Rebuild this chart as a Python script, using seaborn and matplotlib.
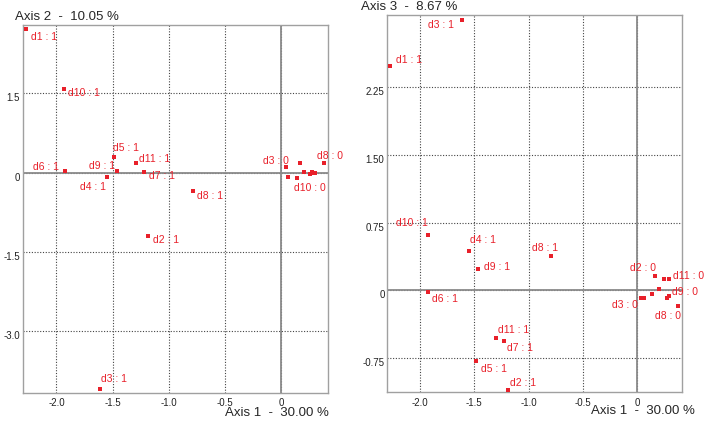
import matplotlib
matplotlib.use("Agg")
import matplotlib.pyplot as plt
import matplotlib.transforms as mtransforms
import pandas as pd
import seaborn as sns

# Modalities and their coordinates on axes 1, 2 and 3
names = ["d1 : 1", "d10 : 1", "d5 : 1", "d9 : 1", "d6 : 1", "d4 : 1", "d11 : 1",
         "d7 : 1", "d8 : 1", "d2 : 1", "d3 : 1",
         "d3 : 0", "d4 : 0", "d5 : 0", "d2 : 0", "d10 : 0", "d6 : 0", "d11 : 0",
         "d7 : 0", "d9 : 0", "d8 : 0"]
axis1 = [-2.275, -1.93, -1.484, -1.463, -1.928, -1.548, -1.297,
         -1.225, -0.79, -1.19, -1.615,
         0.037, 0.062, 0.134, 0.165, 0.200, 0.250, 0.290,
         0.276, 0.297, 0.375]
axis2 = [2.72, 1.58, 0.30, 0.04, 0.04, -0.09, 0.19,
         0.01, -0.35, -1.20, -4.09,
         0.11, -0.08, -0.10, 0.18, 0.01, -0.03, -0.01,
         0.01, -0.01, 0.18]
axis3 = [2.48, 0.61, -0.78, 0.24, -0.015, 0.435, -0.525,
         -0.565, 0.376, -1.10, 3.00,
         -0.08, -0.08, -0.04, 0.16, 0.01, 0.13, 0.12,
         -0.08, -0.06, -0.17]

df = pd.DataFrame({"label": names, "ax1": axis1, "ax2": axis2, "ax3": axis3})

# label placement (pixel offsets from the point, horizontal alignment)
labels_12 = {
    "d1 : 1": (5, -8, "left"), "d10 : 1": (4, -4, "left"), "d5 : 1": (-1, 9, "left"),
    "d9 : 1": (-2, 5, "right"), "d6 : 1": (-6, 4, "right"), "d4 : 1": (-1, -10, "right"),
    "d11 : 1": (3, 4, "left"), "d7 : 1": (5, -4, "left"), "d8 : 1": (4, -5, "left"),
    "d2 : 1": (5, -4, "left"), "d3 : 1": (1, 10, "left"),
    "d3 : 0": (3, 6, "right"), "d8 : 0": (-7, 7, "left"), "d10 : 0": (-10, -16, "left"),
}
labels_13 = {
    "d3 : 1": (-8, -5, "right"), "d1 : 1": (6, 6, "left"), "d10 : 1": (0, 12, "right"),
    "d4 : 1": (1, 11, "left"), "d9 : 1": (6, 2, "left"), "d8 : 1": (-19, 8, "left"),
    "d6 : 1": (4, -7, "left"), "d11 : 1": (2, 8, "left"), "d7 : 1": (3, -7, "left"),
    "d5 : 1": (5, -8, "left"), "d2 : 1": (2, 7, "left"),
    "d2 : 0": (1, 8, "right"), "d11 : 0": (4, 3, "left"), "d9 : 0": (3, 4, "left"),
    "d3 : 0": (-3, -7, "right"), "d8 : 0": (-23, -10, "left"),
}

red = "#e8202a"
sns.set_style("white")
plt.rcParams["font.family"] = ["Liberation Sans", "DejaVu Sans"]

fig = plt.figure(figsize=(7.09, 4.21), dpi=100)
axL = fig.add_axes([0.032, 0.0672, 0.430, 0.8734])
axR = fig.add_axes([0.5463, 0.0682, 0.4152, 0.8962])


def style_axes(ax, xlim, ylim, yticks, yticklabels):
    ax.set_xlim(*xlim)
    ax.set_ylim(*ylim)
    ax.set_xticks([-2.0, -1.5, -1.0, -0.5, 0])
    ax.set_xticklabels(["-2.0", "-1.5", "-1.0", "-0.5", "0"])
    ax.set_yticks(yticks)
    ax.set_yticklabels(yticklabels)
    ax.tick_params(length=0, labelsize=7, colors="#222222", pad=4)
    ax.tick_params(axis="y", pad=2)
    ax.grid(True, linestyle=(0, (1, 1.5)), color="#444444", linewidth=0.8)
    ax.axhline(0, color="#8a8a8a", linewidth=1.3, zorder=1)
    ax.axvline(0, color="#8a8a8a", linewidth=1.3, zorder=1)
    for sp in ax.spines.values():
        sp.set_color("#a0a0a0")
        sp.set_linewidth(1.0)
    ax.set_xlabel("")
    ax.set_ylabel("")
    shift = mtransforms.ScaledTranslation(0, -4 / 100, fig.dpi_scale_trans)
    for lab in ax.get_yticklabels():
        lab.set_transform(lab.get_transform() + shift)


sns.scatterplot(data=df, x="ax1", y="ax2", ax=axL, color=red, marker="s",
                s=5, linewidth=0, legend=False, zorder=3)
sns.scatterplot(data=df, x="ax1", y="ax3", ax=axR, color=red, marker="s",
                s=5, linewidth=0, legend=False, zorder=3)

style_axes(axL, (-2.30, 0.41), (-4.16, 2.79), [-3.0, -1.5, 0, 1.5],
           ["-3.0", "-1.5", "0", "1.5"])
style_axes(axR, (-2.30, 0.41), (-1.13, 3.05), [-0.75, 0, 0.75, 1.5, 2.25],
           ["-0.75", "0", "0.75", "1.50", "2.25"])

for ax, ycol, labs in [(axL, "ax2", labels_12), (axR, "ax3", labels_13)]:
    for _, row in df.iterrows():
        if row["label"] in labs:
            dx, dy, ha = labs[row["label"]]
            ax.annotate(row["label"], (row["ax1"], row[ycol]), xytext=(dx, dy),
                        textcoords="offset pixels", ha=ha, va="center",
                        fontsize=7.5, color=red, zorder=4, annotation_clip=False)

fig.text(15 / 709, 1 - 17 / 421, "Axis 2  -  10.05 %", fontsize=9.5, va="center", ha="left")
fig.text(225 / 709, 1 - 413 / 421, "Axis 1  -  30.00 %", fontsize=9.5, va="center", ha="left")
fig.text(361 / 709, 1 - 7 / 421, "Axis 3  -  8.67 %", fontsize=9.5, va="center", ha="left")
fig.text(591 / 709, 1 - 411 / 421, "Axis 1  -  30.00 %", fontsize=9.5, va="center", ha="left")

fig.savefig("out.png", dpi=100)
